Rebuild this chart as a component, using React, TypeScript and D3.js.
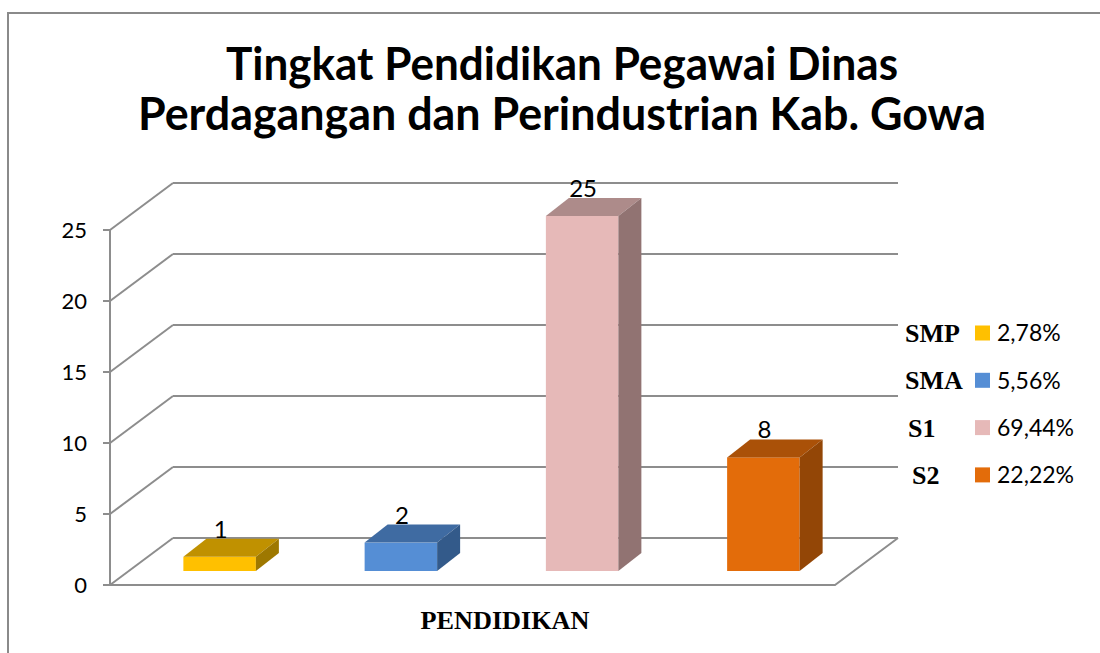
import React from "react";
import * as d3 from "d3";

const categories = ["SMP", "SMA", "S1", "S2"];
const values = [1, 2, 25, 8];
const percents = ["2,78%", "5,56%", "69,44%", "22,22%"];
const yTicks = [0, 5, 10, 15, 20, 25];
const titleLines = ["Tingkat Pendidikan Pegawai Dinas", "Perdagangan dan Perindustrian Kab. Gowa"];
const axisTitle = "PENDIDIKAN";

const frontColors = ["#FFC000", "#558ED5", "#E6B9B8", "#E36C0A"];
const topColors = ["#C09100", "#3F6BA2", "#AD8B8A", "#AA5108"];
const sideColors = ["#9E7800", "#335A8A", "#917372", "#934606"];

export default function App() {
  const W = 1100, H = 653;
  const x0 = 110, x1 = 835;
  const y = d3.scaleLinear().domain([0, 25]).range([585, 230]);
  const DX = 63, DY = -47; // wall depth
  const bdx = 23, bdy = -18; // bar depth
  const offX = 19, offY = -14; // bar front plane offset
  const xb = d3.scaleBand<string>().domain(categories).range([x0 + offX, x1 + offX]).paddingInner(0.6).paddingOuter(0.3);
  const grid = "#8d8d8d";
  const sans = "Lato, 'Open Sans', sans-serif";
  const serif = "'Liberation Serif', 'Times New Roman', serif";

  return (
    <svg width={W} height={H} style={{ position: "absolute", left: 0, top: 0, background: "#fff" }}>
      <rect x={0} y={0} width={W} height={H} fill="#fff" />
      {/* outer border */}
      <path d={`M8,${H + 5} L8,13 L${W + 5},13`} fill="none" stroke="#8a8a8a" strokeWidth={2} />
      {/* title */}
      {titleLines.map((t, i) => (
        <text key={i} x={562} y={80 + i * 50} textAnchor="middle" fontFamily={sans} fontWeight={700} fontSize={46}
          textLength={i === 0 ? 672 : 848} lengthAdjust="spacingAndGlyphs" fill="#000">{t}</text>
      ))}
      {/* gridlines: side wall + back wall */}
      {yTicks.map((v) => (
        <g key={v}>
          <line x1={x0} y1={y(v)} x2={x0 + DX} y2={y(v) + DY} stroke={grid} strokeWidth={2} />
          <line x1={x0 + DX} y1={y(v) + DY} x2={x1 + DX} y2={y(v) + DY} stroke={grid} strokeWidth={2} />
        </g>
      ))}
      {/* floor */}
      <path d={`M${x0},${y(0)} L${x1},${y(0)} L${x1 + DX},${y(0) + DY}`} fill="none" stroke={grid} strokeWidth={2} />
      {/* value axis */}
      <line x1={x0} y1={y(0)} x2={x0} y2={y(25)} stroke={grid} strokeWidth={2} />
      {yTicks.map((v) => (
        <g key={"t" + v}>
          <line x1={x0 - 7} y1={y(v)} x2={x0} y2={y(v)} stroke={grid} strokeWidth={2} />
          <text x={87} y={y(v)} dy="0.36em" textAnchor="end" fontFamily={sans} fontSize={22} fill="#000">{v}</text>
        </g>
      ))}
      {/* bars */}
      {categories.map((c, i) => {
        const bx0 = xb(c)!;
        const bx1 = bx0 + xb.bandwidth();
        const yt = y(values[i]) + offY;
        const yb = y(0) + offY;
        return (
          <g key={c}>
            <rect x={bx0} y={yt} width={bx1 - bx0} height={yb - yt} fill={frontColors[i]} />
            <path d={`M${bx0},${yt} L${bx1},${yt} L${bx1 + bdx},${yt + bdy} L${bx0 + bdx},${yt + bdy} Z`} fill={topColors[i]} />
            <path d={`M${bx1},${yt} L${bx1 + bdx},${yt + bdy} L${bx1 + bdx},${yb + bdy} L${bx1},${yb} Z`} fill={sideColors[i]} />
            <text x={(bx0 + bx1) / 2 + 1} y={yt + bdy - 1} textAnchor="middle" fontFamily={sans} fontSize={24} fill="#000">{values[i]}</text>
          </g>
        );
      })}
      {/* axis title */}
      <text x={505} y={629} textAnchor="middle" fontFamily={serif} fontWeight={700} fontSize={25}
        textLength={169} lengthAdjust="spacingAndGlyphs" fill="#000">{axisTitle}</text>
      {/* legend */}
      {categories.map((c, i) => {
        const cy = 333 + i * 47.3;
        const lx = [905, 905, 908, 912][i];
        return (
          <g key={"l" + c}>
            <text x={lx} y={cy} dy="0.35em" fontFamily={serif} fontWeight={700} fontSize={26} fill="#000">{c}</text>
            <rect x={975} y={cy - 7.5} width={15} height={15} fill={frontColors[i]} />
            <text x={997} y={cy} dy="0.36em" fontFamily={sans} fontSize={23} fill="#000">{percents[i]}</text>
          </g>
        );
      })}
    </svg>
  );
}
